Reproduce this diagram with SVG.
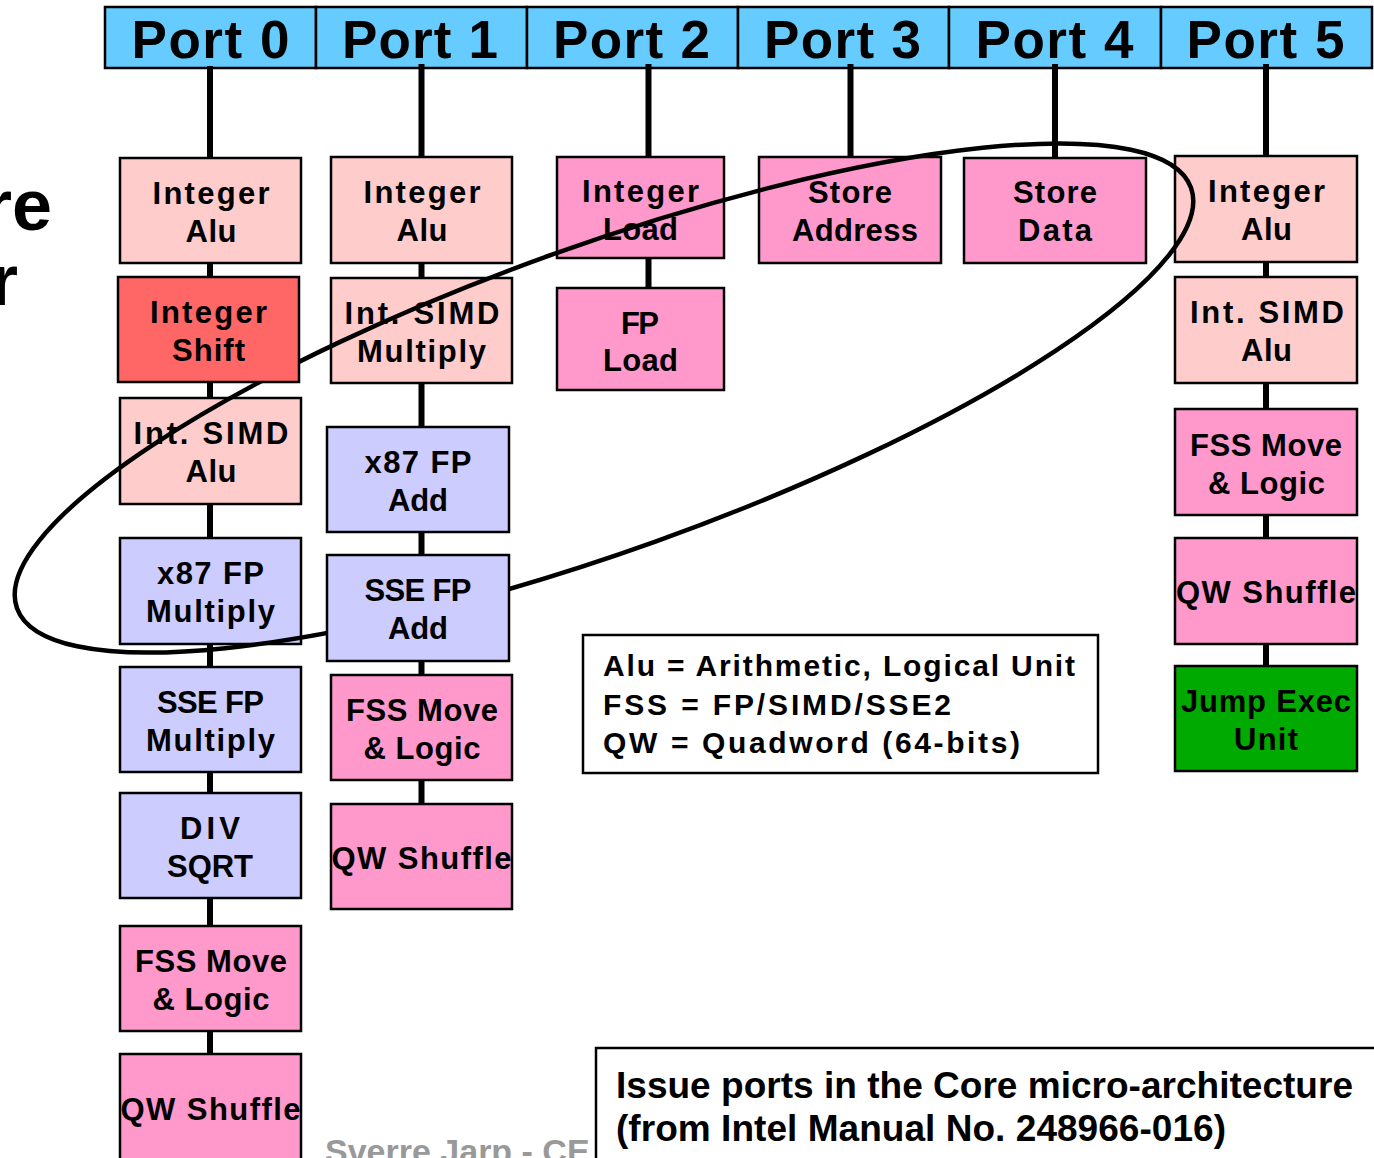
<svg xmlns="http://www.w3.org/2000/svg" width="1374" height="1158" viewBox="0 0 1374 1158">
<style>
.b{stroke:#000;stroke-width:2.5}
.pk{fill:#FFCCCC}.rd{fill:#FF6666}.bl{fill:#CCCCFF}.mg{fill:#FF99CC}.gr{fill:#00AA00}.hd{fill:#66CCFF}
.t{font-family:"Liberation Sans",Arial,Helvetica,sans-serif;font-weight:bold;font-size:31px;text-anchor:middle;fill:#000}
.p{font-family:"Liberation Sans",Arial,Helvetica,sans-serif;font-weight:bold;font-size:53px;text-anchor:middle;fill:#000}
.lg{font-family:"Liberation Sans",Arial,Helvetica,sans-serif;font-weight:bold;font-size:30px;fill:#000}
.cap{font-family:"Liberation Sans",Arial,Helvetica,sans-serif;font-weight:bold;font-size:37px;fill:#000}
.c{stroke:#000;stroke-width:6;fill:none}
</style>
<rect width="1374" height="1158" fill="#fff"/>
<g id="title-fragment">
<text class="cap" style="font-size:72px" x="52" y="230" text-anchor="end">re</text>
<text class="cap" style="font-size:72px" x="18" y="305" text-anchor="end">r</text>
</g>
<g id="ports">
<rect class="b hd" x="105" y="7" width="211" height="61"/>
<rect class="b hd" x="316" y="7" width="211" height="61"/>
<rect class="b hd" x="527" y="7" width="211" height="61"/>
<rect class="b hd" x="738" y="7" width="211" height="61"/>
<rect class="b hd" x="949" y="7" width="212" height="61"/>
<rect class="b hd" x="1161" y="7" width="211" height="61"/>
<text class="p" x="210.5" y="58" textLength="158">Port 0</text>
<text class="p" x="420" y="58" textLength="156">Port 1</text>
<text class="p" x="631.5" y="58" textLength="157">Port 2</text>
<text class="p" x="842.5" y="58" textLength="157">Port 3</text>
<text class="p" x="1054.5" y="58" textLength="158">Port 4</text>
<text class="p" x="1265.5" y="58" textLength="158">Port 5</text>
</g>
<g id="connectors">
<line class="c" x1="210" y1="66" x2="210" y2="1054"/>
<line class="c" x1="421.5" y1="64" x2="421.5" y2="804"/>
<line class="c" x1="648.5" y1="64" x2="648.5" y2="288"/>
<line class="c" x1="850.5" y1="64" x2="850.5" y2="157"/>
<line class="c" x1="1055" y1="64" x2="1055" y2="158"/>
<line class="c" x1="1266" y1="64" x2="1266" y2="666"/>
</g>
<g id="p0-int-alu"><rect class="b pk" x="120" y="158" width="181" height="105"/><text class="t" x="211" y="204" textLength="117">Integer</text><text class="t" x="211" y="242" textLength="51">Alu</text></g>
<g id="p0-simd-alu"><rect class="b pk" x="120" y="398" width="181" height="106"/><text class="t" x="211" y="444" textLength="155">Int. SIMD</text><text class="t" x="211" y="482" textLength="51">Alu</text></g>
<g id="p0-x87-mul"><rect class="b bl" x="120" y="538" width="181" height="106"/><text class="t" x="210.5" y="584" textLength="107">x87 FP</text><text class="t" x="210.5" y="622" textLength="129">Multiply</text></g>
<g id="p0-sse-mul"><rect class="b bl" x="120" y="667" width="181" height="105"/><text class="t" x="210.5" y="713" textLength="107">SSE FP</text><text class="t" x="210.5" y="751" textLength="129">Multiply</text></g>
<g id="p0-div"><rect class="b bl" x="120" y="793" width="181" height="105"/><text class="t" x="210" y="839" textLength="60">DIV</text><text class="t" x="210" y="877" textLength="86">SQRT</text></g>
<g id="p0-fss"><rect class="b mg" x="120" y="926" width="181" height="105"/><text class="t" x="211" y="972" textLength="152">FSS Move</text><text class="t" x="211" y="1010" textLength="117">&amp; Logic</text></g>
<g id="p0-qw"><rect class="b mg" x="120" y="1054" width="181" height="112"/><text class="t" x="210.5" y="1120" textLength="180">QW Shuffle</text></g>
<g id="p1-int-alu"><rect class="b pk" x="331" y="157" width="181" height="106"/><text class="t" x="422" y="203" textLength="117">Integer</text><text class="t" x="422" y="241" textLength="51">Alu</text></g>
<g id="p1-simd-mul"><rect class="b pk" x="331" y="278" width="181" height="105"/><text class="t" x="422" y="324" textLength="155">Int. SIMD</text><text class="t" x="421.5" y="362" textLength="129">Multiply</text></g>
<g id="p1-x87-add"><rect class="b bl" x="327" y="427" width="182" height="105"/><text class="t" x="418" y="473" textLength="107">x87 FP</text><text class="t" x="418" y="511" textLength="60">Add</text></g>
<g id="p1-fss"><rect class="b mg" x="331" y="675" width="181" height="105"/><text class="t" x="422" y="721" textLength="152">FSS Move</text><text class="t" x="422" y="759" textLength="117">&amp; Logic</text></g>
<g id="p1-qw"><rect class="b mg" x="331" y="804" width="181" height="105"/><text class="t" x="421.5" y="869" textLength="180">QW Shuffle</text></g>
<g id="p2-int-load"><rect class="b mg" x="557" y="157" width="167" height="101"/><text class="t" x="640.5" y="202" textLength="117">Integer</text><text class="t" x="640.5" y="240" textLength="75">Load</text></g>
<g id="p2-fp-load"><rect class="b mg" x="557" y="288" width="167" height="102"/><text class="t" x="640" y="334" textLength="38">FP</text><text class="t" x="640.5" y="371" textLength="75">Load</text></g>
<g id="p3-store-addr"><rect class="b mg" x="759" y="157" width="182" height="106"/><text class="t" x="850" y="203" textLength="84">Store</text><text class="t" x="855" y="241" textLength="126">Address</text></g>
<g id="p4-store-data"><rect class="b mg" x="964" y="158" width="182" height="105"/><text class="t" x="1055" y="203" textLength="84">Store</text><text class="t" x="1055" y="241" textLength="74">Data</text></g>
<g id="p5-int-alu"><rect class="b pk" x="1175" y="156" width="182" height="106"/><text class="t" x="1266.5" y="202" textLength="117">Integer</text><text class="t" x="1266.5" y="240" textLength="51">Alu</text></g>
<g id="p5-simd-alu"><rect class="b pk" x="1175" y="277" width="182" height="106"/><text class="t" x="1267" y="323" textLength="154">Int. SIMD</text><text class="t" x="1266.5" y="361" textLength="51">Alu</text></g>
<g id="p5-fss"><rect class="b mg" x="1175" y="409" width="182" height="106"/><text class="t" x="1266" y="456" textLength="152">FSS Move</text><text class="t" x="1266.5" y="494" textLength="117">&amp; Logic</text></g>
<g id="p5-qw"><rect class="b mg" x="1175" y="538" width="182" height="106"/><text class="t" x="1266" y="603" textLength="180">QW Shuffle</text></g>
<g id="p5-jump"><rect class="b gr" x="1175" y="666" width="182" height="105"/><text class="t" x="1266" y="712" textLength="170">Jump Exec</text><text class="t" x="1266" y="750" textLength="64">Unit</text></g>
<g id="loop">
<ellipse cx="604" cy="398" rx="623.5" ry="152.5" transform="rotate(-19.7 604 398)" fill="none" stroke="#000" stroke-width="4.5"/>
</g>
<g id="p0-int-shift"><rect class="b rd" x="118" y="277" width="181" height="105"/><text class="t" x="208.5" y="323" textLength="117">Integer</text><text class="t" x="208.5" y="361" textLength="73">Shift</text></g>
<g id="p1-sse-add"><rect class="b bl" x="327" y="555" width="182" height="106"/><text class="t" x="418" y="601" textLength="107">SSE FP</text><text class="t" x="418" y="639" textLength="60">Add</text></g>
<g id="legend">
<rect x="583" y="635" width="515" height="138" fill="#fff" stroke="#000" stroke-width="2.5"/>
<text class="lg" x="603" y="676" textLength="472">Alu = Arithmetic, Logical Unit</text>
<text class="lg" x="603" y="715" textLength="348">FSS = FP/SIMD/SSE2</text>
<text class="lg" x="603" y="753" textLength="417">QW = Quadword (64-bits)</text>
</g>
<text x="325" y="1163" style="font-family:'Liberation Sans',Arial,sans-serif;font-weight:bold;font-size:34px;fill:#999">Sverre Jarp - CE</text>
<g id="caption">
<rect x="596" y="1048" width="800" height="200" fill="#fff" stroke="#000" stroke-width="2.5"/>
<text class="cap" x="616" y="1098" textLength="737">Issue ports in the Core micro-architecture</text>
<text class="cap" x="616" y="1141" textLength="610">(from Intel Manual No. 248966-016)</text>
</g>
</svg>
